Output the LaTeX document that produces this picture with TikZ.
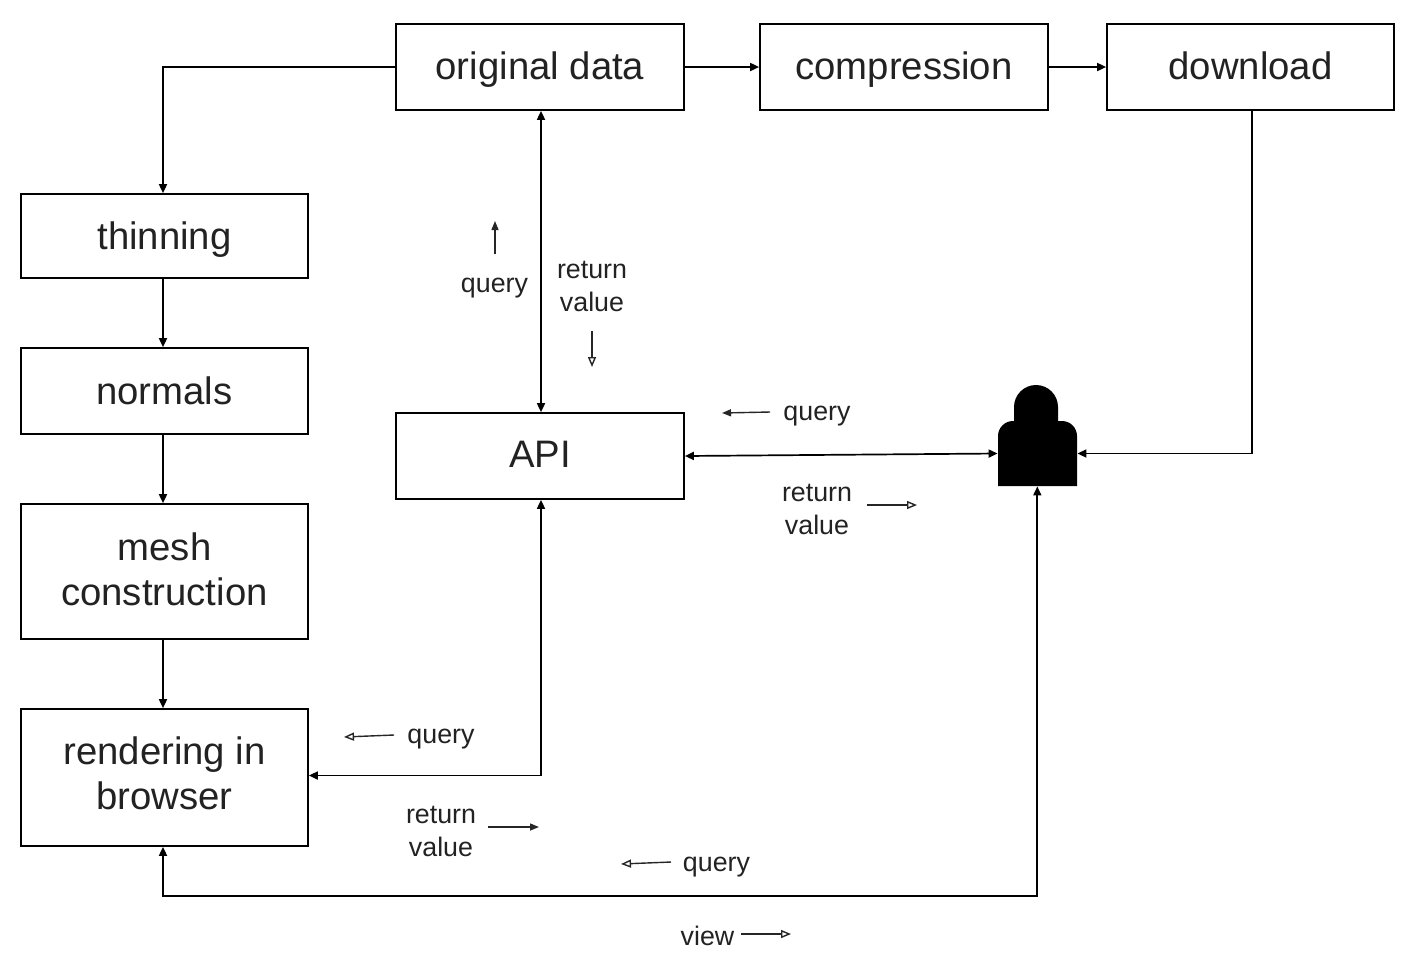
\documentclass[tikz,border=0pt]{standalone}
\usepackage{fontspec}
\setmainfont{Liberation Sans}
\usetikzlibrary{arrows.meta}
\definecolor{ink}{HTML}{222222}
\newcommand\liftone[2]{\raisebox{#1}[0pt][0pt]{#2}}
\newcommand\lifttwo[3]{\raisebox{#1}[0pt][0pt]{\begin{tabular}{@{}c@{}}#2\\#3\end{tabular}}}
\tikzset{
  x=0.5pt,y=-0.5pt,
  box/.style={draw=black,line width=0.85pt,inner sep=0pt,align=center,text=ink,font=\fontsize{19.15}{22.5}\selectfont},
  hinta/.style={text=ink,font=\fontsize{13.4}{16.5}\selectfont,align=center,inner sep=0pt},
  conn/.style={draw=black,line width=0.85pt,-{Triangle[length=4.5pt,width=4pt]}},
  both/.style={draw=black,line width=0.85pt,{Triangle[length=4.5pt,width=4pt]}-{Triangle[length=4.5pt,width=4pt]}},
  cue/.style={draw=black!85,line width=0.7pt,-{Triangle[open,length=5pt,width=4pt]}},
  cuef/.style={draw=black!85,line width=0.7pt,-{Triangle[length=4.5pt,width=3.5pt]}},
}
\begin{document}
\begin{tikzpicture}
\useasboundingbox (0,0) rectangle (1418,966);
% boxes
\node[box,minimum width=144pt,minimum height=43pt] (orig) at (540,67) {\liftone{-6pt}{original data}};
\node[box,minimum width=144pt,minimum height=43pt] (comp) at (904,67) {\liftone{-6pt}{compression}};
\node[box,minimum width=143.5pt,minimum height=43pt] (down) at (1250.5,67) {\liftone{-6pt}{download}};
\node[box,minimum width=143.5pt,minimum height=42pt] (thin) at (164.5,236) {\liftone{-6.5pt}{thinning}};
\node[box,minimum width=143.5pt,minimum height=43pt] (norm) at (164.5,391) {\liftone{-6.8pt}{normals}};
\node[box,minimum width=143.5pt,minimum height=67.5pt] (mesh) at (164.5,571.5) {\lifttwo{-6.25pt}{mesh}{construction}};
\node[box,minimum width=143.5pt,minimum height=68.5pt] (rend) at (164.5,777.5) {\lifttwo{-5.5pt}{rendering in}{browser}};
\node[box,minimum width=144pt,minimum height=43pt] (api) at (540,456) {\liftone{-5.8pt}{API}};
% lock
\node[inner sep=0pt,minimum width=39.5pt,minimum height=32.5pt] (lock) at (1037.5,453.5) {};
\fill[black] (998,486) -- (998,436) arc[start angle=180,end angle=90,radius=7.5pt] -- (1014,421) -- (1014,407)
  arc[start angle=180,end angle=0,x radius=11pt,y radius=11pt] -- (1058,421) -- (1062,421)
  arc[start angle=90,end angle=0,radius=7.5pt] -- (1077,486) -- cycle;
% connectors
\draw[conn] (orig.west) -| (thin.north -| 163,0);
\draw[conn] (orig.east) -- (comp.west);
\draw[conn] (comp.east) -- (down.west);
\draw[conn] (thin.south -| 163,0) -- (norm.north -| 163,0);
\draw[conn] (norm.south -| 163,0) -- (mesh.north -| 163,0);
\draw[conn] (mesh.south -| 163,0) -- (rend.north -| 163,0);
\draw[both] ([xshift=0.5pt]orig.south) -- ([xshift=0.5pt]api.north);
\draw[both] (api.east) -- (lock.west);
\draw[conn] ([xshift=0.75pt]down.south) |- (lock.east);
\draw[both] ([xshift=0.5pt]api.south) |- ([yshift=1pt]rend.east);
\coordinate (bus) at (600,896);
\draw[both] (rend.south -| 163,0) |- (bus) -| ([xshift=-0.1pt]lock.south);
% cue labels
\node[hinta] (q1) at (494.5,288) {query};
\node[hinta] (r1) at (592,286.5) {return\\value};
\node[hinta] (q2) at (817,416.5) {query};
\node[hinta] (r2) at (817,509) {return\\value};
\node[hinta] (q3) at (441,739) {query};
\node[hinta] (r3) at (441,831.5) {return\\value};
\node[hinta] (q4) at (716.5,867) {query};
\node[hinta] (v1) at (707.5,936) {view};
% cue arrows
\coordinate (a1s) at (495,254); \coordinate (a1e) at (495,221);
\coordinate (a2s) at (592,331); \coordinate (a2e) at (592,367);
\coordinate (a3s) at (770,412); \coordinate (a3e) at (722,413);
\coordinate (a4s) at (867,505); \coordinate (a4e) at (917,505);
\coordinate (a5s) at (394,735); \coordinate (a5e) at (344,737);
\coordinate (a6s) at (488,827); \coordinate (a6e) at (539,827);
\coordinate (a7s) at (671,862); \coordinate (a7e) at (621,864);
\coordinate (a8s) at (741,934); \coordinate (a8e) at (791,934);
\draw[cuef] (a1s) -- (a1e);
\draw[cue] (a2s) -- (a2e);
\draw[cuef] (a3s) -- (a3e);
\draw[cue] (a4s) -- (a4e);
\draw[cue] (a5s) -- (a5e);
\draw[cuef] (a6s) -- (a6e);
\draw[cue] (a7s) -- (a7e);
\draw[cue] (a8s) -- (a8e);
\end{tikzpicture}
\end{document}
